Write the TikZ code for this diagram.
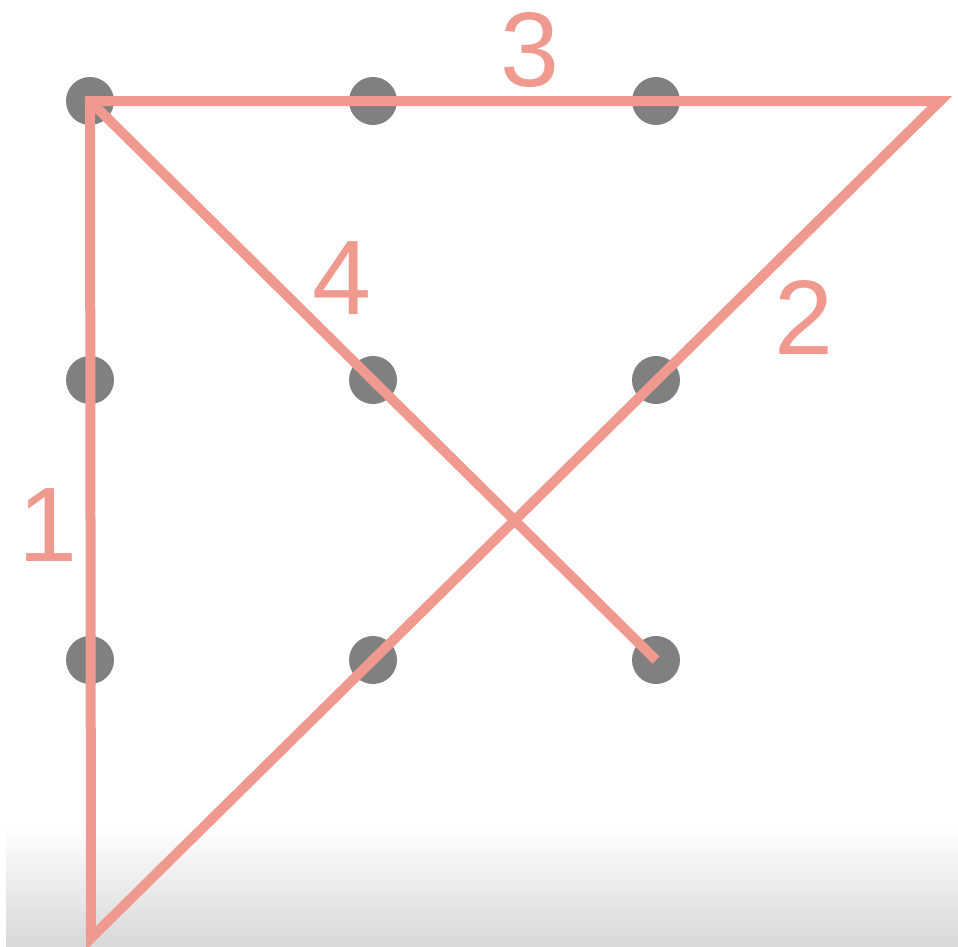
\documentclass[tikz,border=0pt]{standalone}
\usepackage{fontspec}
\setmainfont{Liberation Sans}
\definecolor{salmon}{HTML}{F0998F}
\definecolor{dotgray}{HTML}{808080}
\definecolor{floor}{HTML}{D8D8D8}
\begin{document}
\begin{tikzpicture}[x=1pt,y=-1pt,
  dot/.style={circle,fill=dotgray,minimum size=48pt,inner sep=0pt},
  stroke/.style={draw=salmon,line width=10pt},
  num/.style={text=salmon,font=\fontsize{106}{106}\selectfont,inner sep=0pt}]
\useasboundingbox (0,0) rectangle (958,946);
\shade[top color=white,bottom color=floor] (6,825) rectangle (958,946);
\foreach \c/\x in {1/90,2/373,3/656}{
  \node[dot] (a\c) at (\x,101) {};
  \node[dot] (b\c) at (\x,380) {};
  \node[dot] (c\c) at (\x,660) {};
}
\coordinate (bottom) at (91,938);
\coordinate (right) at (940,101);
\draw[stroke,line join=miter] (a1.center) -- (bottom) -- (right) -- cycle;
\draw[stroke] (a1.center) -- (c3.center);
\node[num] (n1) at (48,525) {1};
\node[num] (n2) at (804,317) {2};
\node[num] (n3) at (530,50) {3};
\node[num] (n4) at (342,278) {4};
\end{tikzpicture}
\end{document}
